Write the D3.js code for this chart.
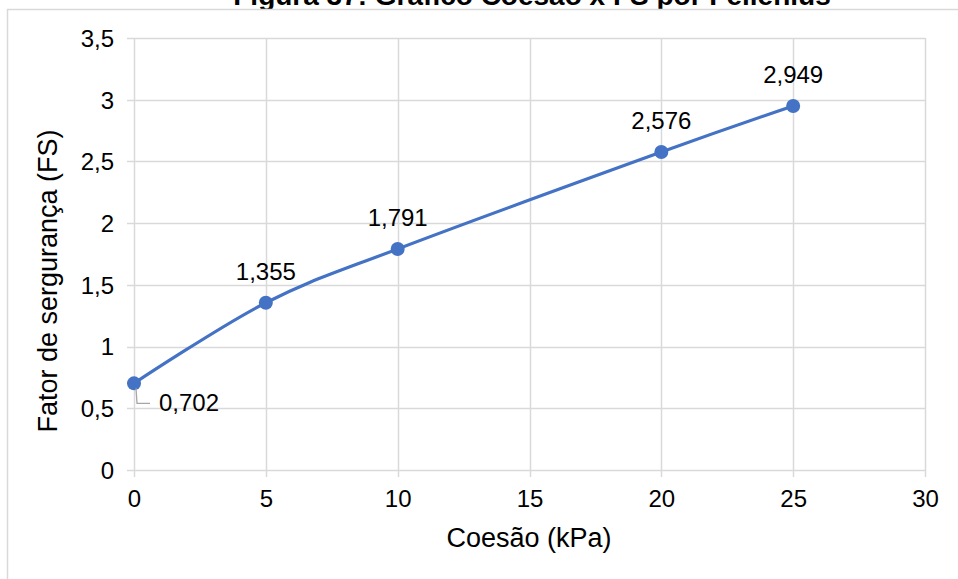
<!DOCTYPE html>
<html>
<head>
<meta charset="utf-8">
<script src="https://cdn.jsdelivr.net/npm/d3@7"></script>
<style>
  html, body { margin: 0; padding: 0; background: #fff; overflow: hidden; }
  svg { display: block; font-family: "Liberation Sans", Arial, sans-serif; }
</style>
</head>
<body>
<svg id="chart" width="958" height="579"></svg>
<script>
// Cohesion (kPa) vs safety factor (Fellenius)
const coesao = [0, 5, 10, 20, 25];
const fatorSeguranca = [0.702, 1.355, 1.791, 2.576, 2.949];
const rotulos = ["0,702", "1,355", "1,791", "2,576", "2,949"];
const xTicks = [0, 5, 10, 15, 20, 25, 30];
const yTicks = [0, 0.5, 1, 1.5, 2, 2.5, 3, 3.5];
const yTickLabels = ["0", "0,5", "1", "1,5", "2", "2,5", "3", "3,5"];

const svg = d3.select("#chart");
const gridColor = "#d9d9d9";
const lineColor = "#4472c4";
const tickFont = 24;
const titleFont = 27;

const x = d3.scaleLinear().domain([0, 30]).range([134, 925]);
const y = d3.scaleLinear().domain([0, 3.5]).range([470, 38]);

// Figure title, partly above the chart frame
svg.append("text")
  .attr("x", 532).attr("y", 5)
  .attr("text-anchor", "middle")
  .attr("font-weight", "bold")
  .attr("font-size", 28)
  .attr("fill", "#000")
  .text("Figura 37: Gráfico Coesão x FS por Fellenius");

// Chart frame
svg.append("rect")
  .attr("x", 7.5).attr("y", 9.5)
  .attr("width", 1000).attr("height", 1000)
  .attr("fill", "#fff")
  .attr("stroke", gridColor)
  .attr("stroke-width", 1.5);

// Gridlines (extending past the plot edge as tick marks)
const grid = svg.append("g");
grid.selectAll("line.gx").data(xTicks).join("line")
  .attr("class", "gx")
  .attr("x1", d => Math.round(x(d)) + 0.5).attr("x2", d => Math.round(x(d)) + 0.5)
  .attr("y1", y(3.5)).attr("y2", y(0) + 7)
  .attr("stroke", gridColor).attr("stroke-width", 1.5);
grid.selectAll("line.gy").data(yTicks).join("line")
  .attr("class", "gy")
  .attr("y1", d => Math.round(y(d)) + 0.5).attr("y2", d => Math.round(y(d)) + 0.5)
  .attr("x1", x(0) - 7).attr("x2", x(30))
  .attr("stroke", gridColor).attr("stroke-width", 1.5);

// Axis labels
const xAxis = d3.axisBottom(x).tickValues(xTicks).tickSize(0).tickPadding(0).tickFormat(d3.format("d"));
const gx = svg.append("g").attr("transform", `translate(0,${y(0) + 37})`).call(xAxis);
gx.select(".domain").remove();
gx.selectAll("text").attr("font-size", tickFont).attr("fill", "#000")
  .attr("font-family", "Liberation Sans, Arial, sans-serif")
  .attr("dy", 0);

const yAxis = d3.axisLeft(y).tickValues(yTicks).tickSize(0).tickPadding(0)
  .tickFormat((d, i) => yTickLabels[i]);
const gy = svg.append("g").attr("transform", `translate(${x(0) - 20},0)`).call(yAxis);
gy.select(".domain").remove();
gy.selectAll("text").attr("font-size", tickFont).attr("fill", "#000")
  .attr("font-family", "Liberation Sans, Arial, sans-serif")
  .attr("dy", "0.35em");

// Axis titles
svg.append("text")
  .attr("x", 529).attr("y", 547)
  .attr("text-anchor", "middle")
  .attr("font-size", titleFont).attr("fill", "#000")
  .text("Coesão (kPa)");
svg.append("text")
  .attr("transform", "translate(57,281) rotate(-90)")
  .attr("text-anchor", "middle")
  .attr("font-size", titleFont).attr("fill", "#000")
  .text("Fator de sergurança (FS)");

// Smoothed series line
const pts = coesao.map((c, i) => [c, fatorSeguranca[i]]);
const line = d3.line()
  .x(d => x(d[0])).y(d => y(d[1]))
  .curve(d3.curveCatmullRom.alpha(0));
svg.append("path")
  .datum(pts)
  .attr("d", line)
  .attr("fill", "none")
  .attr("stroke", lineColor)
  .attr("stroke-width", 3.2)
  .attr("stroke-linecap", "round");

// Markers
svg.selectAll("circle.pt").data(pts).join("circle")
  .attr("class", "pt")
  .attr("cx", d => x(d[0])).attr("cy", d => y(d[1]))
  .attr("r", 7)
  .attr("fill", lineColor);

// Data labels
const labels = svg.append("g").attr("font-size", tickFont).attr("fill", "#000");
pts.forEach((d, i) => {
  const px = x(d[0]), py = y(d[1]);
  if (i === 0) {
    // leader line for the first label
    svg.append("path")
      .attr("d", `M${px + 2},${py + 5} L${px + 3},${py + 20} L${px + 16},${py + 20}`)
      .attr("fill", "none")
      .attr("stroke", "#a6a6a6")
      .attr("stroke-width", 1.3);
    labels.append("text")
      .attr("x", px + 25).attr("y", py + 28)
      .text(rotulos[i]);
  } else {
    labels.append("text")
      .attr("x", px).attr("y", py - 23)
      .attr("text-anchor", "middle")
      .text(rotulos[i]);
  }
});
</script>
</body>
</html>
